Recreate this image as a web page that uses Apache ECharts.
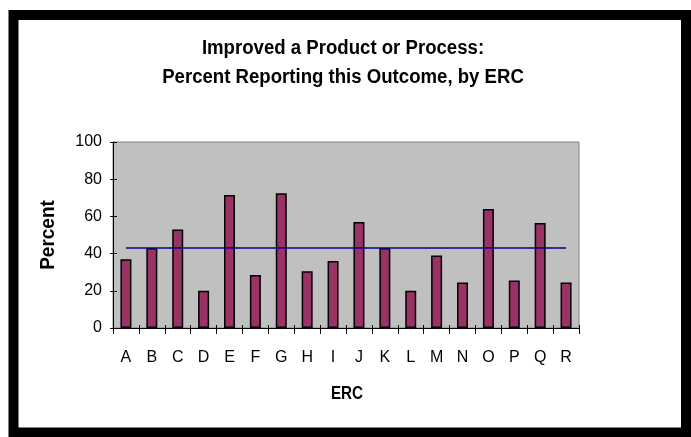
<!DOCTYPE html>
<html>
<head>
<meta charset="utf-8">
<script src="https://cdn.jsdelivr.net/npm/echarts@6/dist/echarts.min.js"></script>
<style>
  html, body { margin: 0; padding: 0; background: #ffffff; }
  #chart { width: 691px; height: 437px; }
</style>
</head>
<body>
<div id="chart"></div>
<script>
// ERC categories and the share of each reporting an improved product or process
const categories = ['A', 'B', 'C', 'D', 'E', 'F', 'G', 'H', 'I', 'J', 'K', 'L', 'M', 'N', 'O', 'P', 'Q', 'R'];
const percentValues = [37, 43, 53, 20, 71.5, 28.5, 72.5, 30.5, 36, 57, 43, 20, 39, 24.5, 64, 25.5, 56.5, 24.5];
// overall level across all ERCs, drawn as a horizontal reference line
const overallValues = [43, 43, 43, 43, 43, 43, 43, 43, 43, 43, 43, 43, 43, 43, 43, 43, 43, 43];
const yTicks = { min: 0, max: 100, interval: 20 };
const titleLines = ['Improved a Product or Process:', 'Percent Reporting this Outcome, by ERC'];

const plain = "'Liberation Sans', Arial, sans-serif";
const boldFont = "bold 20px 'Liberation Sans', Arial, sans-serif";

const chart = echarts.init(document.getElementById('chart'), null, { renderer: 'canvas' });

// a condensed bold look for headings: bold sans squeezed horizontally
function headingText(text, x, y, font, squeeze, rotation) {
  return {
    type: 'text',
    silent: true,
    x: x,
    y: y,
    rotation: rotation || 0,
    scaleX: squeeze,
    z: 50,
    style: {
      text: text,
      font: font,
      fill: '#000000',
      align: 'center',
      verticalAlign: 'middle'
    }
  };
}

chart.setOption({
  animation: false,
  backgroundColor: '#ffffff',
  grid: {
    left: 113,
    top: 142,
    right: 112,
    bottom: 109,
    show: true,
    backgroundColor: '#c0c0c0',
    borderColor: '#808080',
    borderWidth: 1
  },
  xAxis: [
    {
      type: 'category',
      data: categories,
      position: 'bottom',
      axisLine: { lineStyle: { color: '#000000', width: 1 } },
      axisTick: { show: true, inside: false, length: 6, alignWithLabel: false, lineStyle: { color: '#000000' } },
      axisLabel: { fontFamily: plain, fontSize: 16, color: '#000000', margin: 22 },
      splitLine: { show: false }
    },
    {
      type: 'category',
      data: categories,
      position: 'bottom',
      axisLine: { show: false },
      axisTick: { show: true, inside: true, length: 3, lineStyle: { color: '#000000' } },
      axisLabel: { show: false },
      splitLine: { show: false }
    }
  ],
  yAxis: [
    {
      type: 'value',
      min: yTicks.min,
      max: yTicks.max,
      interval: yTicks.interval,
      position: 'left',
      axisLine: { show: true, lineStyle: { color: '#000000', width: 1 } },
      axisTick: { show: true, inside: false, length: 3, lineStyle: { color: '#000000' } },
      axisLabel: { fontFamily: plain, fontSize: 16, color: '#000000', margin: 11 },
      splitLine: { show: false }
    },
    {
      type: 'value',
      min: yTicks.min,
      max: yTicks.max,
      interval: yTicks.interval,
      position: 'left',
      axisLine: { show: false },
      axisTick: { show: true, inside: true, length: 4, lineStyle: { color: '#000000' } },
      axisLabel: { show: false },
      splitLine: { show: false }
    }
  ],
  series: [
    {
      type: 'bar',
      data: percentValues,
      xAxisIndex: 0,
      yAxisIndex: 0,
      barWidth: 11,
      itemStyle: { color: '#993366', borderColor: '#000000', borderWidth: 1.5 },
      z: 2
    },
    {
      type: 'line',
      data: overallValues,
      xAxisIndex: 0,
      yAxisIndex: 0,
      symbol: 'none',
      lineStyle: { color: '#000080', width: 1.5 },
      z: 3
    }
  ],
  graphic: [
    headingText(titleLines[0], 343, 48, boldFont, 0.93),
    headingText(titleLines[1], 343, 77, boldFont, 0.93),
    headingText('ERC', 347, 394, "bold 19px 'Liberation Sans', Arial, sans-serif", 0.8),
    headingText('Percent', 48, 235, "bold 20px 'Liberation Sans', Arial, sans-serif", 0.95, Math.PI / 2),
    {
      type: 'rect',
      silent: true,
      z: 100,
      shape: { x: 13.5, y: 15, width: 672.5, height: 417.5 },
      style: { fill: 'none', stroke: '#000000', lineWidth: 10 }
    }
  ]
});
</script>
</body>
</html>
